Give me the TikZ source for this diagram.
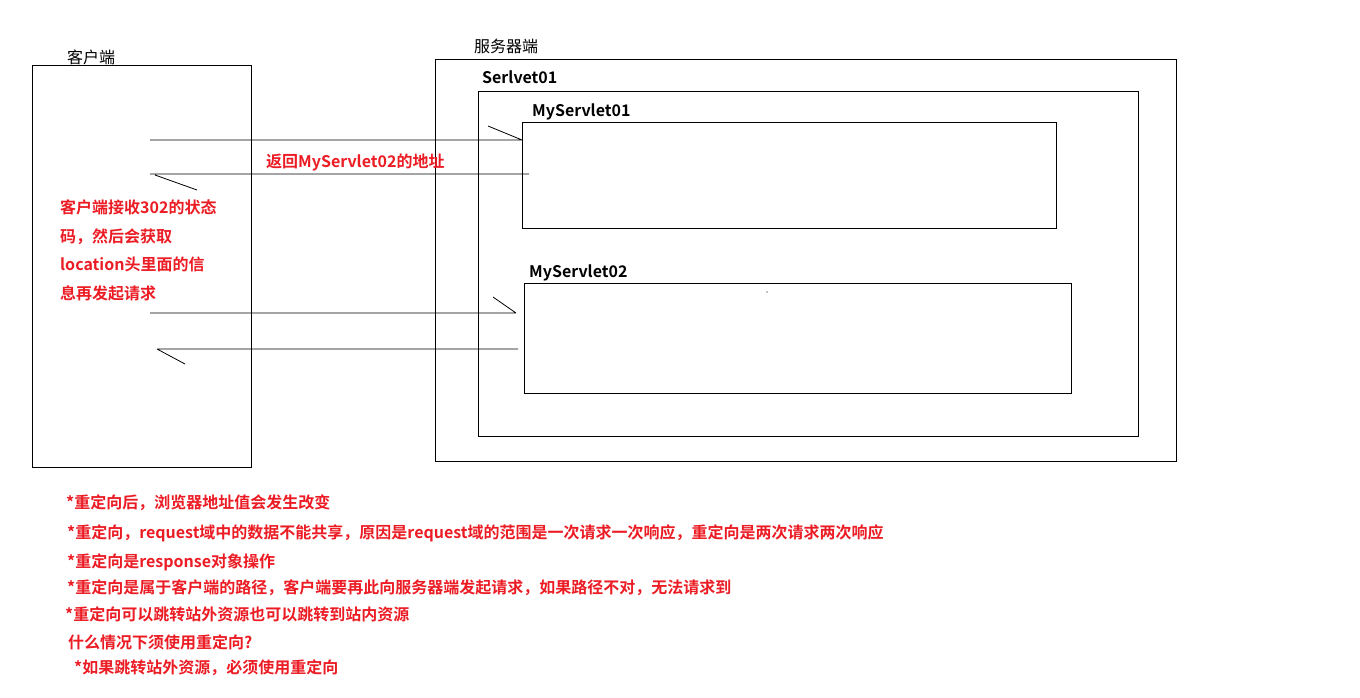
\documentclass[tikz,border=0pt]{standalone}
\usepackage{fontspec}
\setmainfont{Noto Sans CJK SC}[BoldFont={* Bold}]
\definecolor{rd}{RGB}{236,28,36}
\begin{document}
\begin{tikzpicture}[x=1pt,y=-1pt,
  box/.style={draw=black,line width=0.8pt},
  lbl/.style={anchor=west,inner sep=0pt,font=\fontsize{16}{18}\selectfont\bfseries},
  rlbl/.style={lbl,text=rd},
  ln/.style={draw=black,line width=0.8pt}]
\useasboundingbox[fill=white] (0,0) rectangle (1360,697);
\draw[box] (32,65) rectangle (251,467);
\node[lbl,font=\fontsize{16}{18}\selectfont] (tc) at (67,57) {客户端};
\draw[box] (435,59) rectangle (1176,461);
\node[lbl,font=\fontsize{16}{18}\selectfont] (ts) at (474,46) {服务器端};
\draw[box] (478,91) rectangle (1138,436);
\node[lbl] (t1) at (482,77) {Serlvet01};
\draw[box] (522,122) rectangle (1056,228);
\node[lbl] (t2) at (532,112) {MyServlet01};
\draw[box] (524,283) rectangle (1071,393);
\node[lbl] (t3) at (529,273) {MyServlet02};
\fill (767,292) circle (0.6);
\coordinate (a1) at (150,140); \coordinate (b1) at (522,140); \coordinate (c1) at (488,126);
\coordinate (a2) at (529,174); \coordinate (b2) at (150,174); \coordinate (c2) at (155,175); \coordinate (d2) at (197,190);
\coordinate (a3) at (150,313); \coordinate (b3) at (516,313); \coordinate (c3) at (493,297);
\coordinate (a4) at (518,349); \coordinate (b4) at (157,349); \coordinate (c4) at (185,364);
\draw[ln] (a1)--(b1) (c1)--(b1);
\draw[ln] (a2)--(b2) (c2)--(d2);
\draw[ln] (a3)--(b3) (c3)--(b3);
\draw[ln] (a4)--(b4) (b4)--(c4);
\node[rlbl] (r0) at (266,162) {返回MyServlet02的地址};
\node[rlbl,align=left,anchor=north west,font=\fontsize{16}{28.4}\selectfont\bfseries] (r1) at (60,200) {客户端接收302的状态\\码，然后会获取\\location头里面的信\\息再发起请求};
\node[rlbl] (n1) at (66,503) {*重定向后，浏览器地址值会发生改变};
\node[rlbl] (n2) at (67,533) {*重定向，request域中的数据不能共享，原因是request域的范围是一次请求一次响应，重定向是两次请求两次响应};
\node[rlbl] (n3) at (67,562) {*重定向是response对象操作};
\node[rlbl] (n4) at (67,588) {*重定向是属于客户端的路径，客户端要再此向服务器端发起请求，如果路径不对，无法请求到};
\node[rlbl] (n5) at (65,614) {*重定向可以跳转站外资源也可以跳转到站内资源};
\node[rlbl] (n6) at (68,642) {什么情况下须使用重定向?};
\node[rlbl] (n7) at (74,668) {*如果跳转站外资源，必须使用重定向};
\end{tikzpicture}
\end{document}
